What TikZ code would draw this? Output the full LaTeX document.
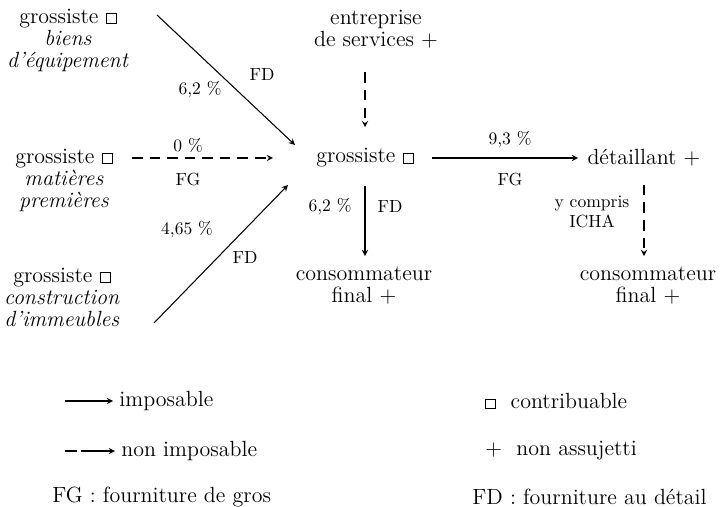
\documentclass[tikz,border=0pt]{standalone}
\usepackage{amsmath}
\usepackage{tikz}
\usetikzlibrary{arrows, positioning}
\tikzset{>=stealth}
\tikzset{lab/.style={font=\fontsize{10}{11}\selectfont}}
\tikzset{ndash/.style={dash pattern=on 6pt off 4pt}}
\newcommand{\ctb}{{\setlength{\fboxsep}{0pt}\setlength{\fboxrule}{0.5pt}\fbox{\rule{0pt}{0.4em}\hspace{0.42em}}}}

\begin{document}
\begin{tikzpicture}[>=stealth, semithick, font=\fontsize{12.5}{12.5}\selectfont]
		\useasboundingbox (0,0) rectangle (14.52,-10.14);
		\node[align=center] (GB) at (1.36,-0.80) {grossiste \ctb\\ \textit{biens}\\ \textit{d'équipement}};
		\node[align=center] (GM) at (1.28,-3.60) {grossiste \ctb\\ \textit{matières}\\ \textit{premières}};
		\node[align=center] (GC) at (1.24,-5.94) {grossiste \ctb\\ \textit{construction}\\ \textit{d'immeubles}};
		\node[align=center] (ES) at (7.52,-0.58) {entreprise\\ de services +};
		\node (G) at (7.30,-3.16) {grossiste \ctb};
		\node (D) at (12.88,-3.16) {détaillant +};
		\node[align=center] (C1) at (7.28,-5.72) {consommateur\\ final +};
		\node[align=center] (C2) at (12.96,-5.72) {consommateur\\ final +};
		\coordinate (gb-out) at (3.14,-0.30);  \coordinate (g-in1) at (5.90,-2.90);
		\coordinate (gm-out) at (2.64,-3.16);  \coordinate (g-in2) at (5.46,-3.16);
		\coordinate (gc-out) at (3.08,-6.46);  \coordinate (g-in3) at (5.76,-3.70);
		\node[lab] (p1) at (4.00,-1.80) {6,2 \%};  \node[lab] (f1) at (5.24,-1.50) {FD};
		\node[lab] (p2) at (3.76,-2.90) {0 \%};    \node[lab] (f2) at (3.76,-3.60) {FG};
		\node[lab] (p3) at (3.74,-4.60) {4,65 \%}; \node[lab] (f3) at (4.90,-5.16) {FD};
		\node[lab] (p4) at (10.20,-2.80) {9,3 \%}; \node[lab] (f4) at (10.20,-3.60) {FG};
		\node[lab] (p5) at (6.60,-4.14) {6,2 \%};  \node[lab] (f5) at (7.80,-4.14) {FD};
		\node[lab, align=center] (icha) at (11.84,-4.24) {y compris\\ ICHA};
		\draw [->] (gb-out)--(g-in1);
		\draw [->, ndash] (gm-out)--(g-in2);
		\draw [->] (gc-out)--(g-in3);
		\draw [->, ndash, shorten <=0.36cm, shorten >=0.3cm] (G.north |- ES.south)--(G.north);
		\draw [->, shorten <=0.24cm, shorten >=0.06cm] (G.east)--(D.west);
		\draw [->, shorten <=0.24cm, shorten >=0.1cm] (G.south)--(G.south |- C1.north);
		\draw [->, ndash, shorten <=0.24cm, shorten >=0.1cm] (D.south)--(D.south |- C2.north);
		% legende
		\coordinate (l1) at (1.30,-8.02);
		\coordinate (l2) at (1.30,-9.02);
		\node[anchor=west] (imp) at (2.26,-8.02) {imposable};
		\node[anchor=west] (nimp) at (2.30,-9.02) {non imposable};
		\node[anchor=west] (fg) at (0.92,-9.94) {FG : fourniture de gros};
		\node[anchor=west] (ctb) at (9.58,-8.02) {\ctb\ \ contribuable};
		\node[anchor=west] (nas) at (9.58,-9.02) {+ \ non assujetti};
		\node[anchor=west] (fd) at (9.32,-9.94) {FD : fourniture au détail};
		\draw [->] (l1)--(imp);
		\draw [->, dash pattern=on 6.8pt off 2.3pt on 30pt] (l2)--(nimp);
\end{tikzpicture}
\end{document}
